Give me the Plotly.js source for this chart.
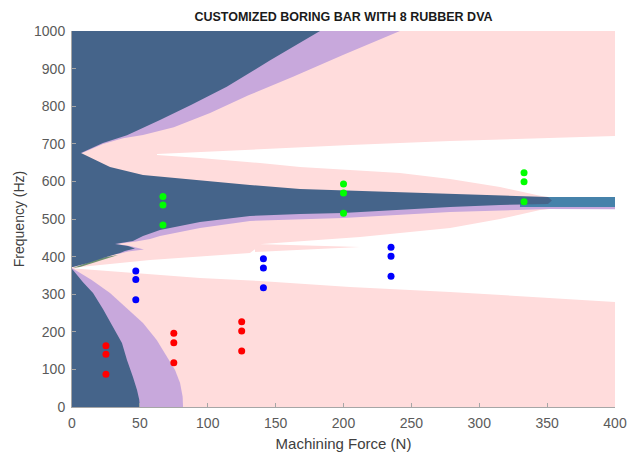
<!DOCTYPE html>
<html>
<head>
<meta charset="utf-8">
<script src="https://cdn.plot.ly/plotly-3.0.1.min.js"></script>
<style>
  html, body { margin: 0; padding: 0; background: #ffffff; }
  #chart { width: 628px; height: 454px; }
</style>
</head>
<body>
<div id="chart"></div>
<script>
// Axis ticks
const forceTicks = [0, 50, 100, 150, 200, 250, 300, 350, 400];
const freqTicks = [0, 100, 200, 300, 400, 500, 600, 700, 800, 900, 1000];

// Measured chatter points (force in N, frequency in Hz)
const forceRed = [25, 25, 25, 75, 75, 75, 125, 125, 125];
const freqRed = [163, 140, 87, 196, 171, 118, 227, 202, 149];
const forceBlue = [47, 47, 47, 141, 141, 141, 235, 235, 235];
const freqBlue = [362, 339, 285, 394, 370, 317, 425, 401, 348];
const forceGreen = [67, 67, 67, 200, 200, 200, 333, 333, 333];
const freqGreen = [560, 537, 484, 593, 569, 515, 623, 599, 546];

// Outer unstable zone (pink) spans the whole domain; stable pockets are cut out of it
const pinkZoneX = [0, 400, 400, 0];
const pinkZoneY = [0, 0, 1000, 1000];

// Stable pocket above the resonance band
const stableUpperX = [62.6, 94.3, 138.5, 204.8, 278.5, 400, 400, 350.6, 344.8, 315.3, 278.5, 241.6, 168, 138.5, 94.3, 62.6];
const stableUpperY = [672.9, 678.2, 686.2, 696.8, 707.4, 720.7, 558.5, 558.5, 562, 585.1, 606.4, 622.3, 638.3, 648.9, 662.2, 670.2];

// Stable pocket below the resonance band
const stableLowerX = [2.2, 57.5, 131.1, 140, 212.2, 278.5, 315.3, 344.8, 359.5, 400, 400, 278.5, 204.8, 138.5, 94.3, 42.7, 2.2];
const stableLowerY = [371, 391, 409.6, 433.5, 452.1, 476.1, 500, 523.9, 529.3, 530.6, 279.3, 305.9, 319.1, 335.1, 343.1, 356.4, 368.4];

// Thin unstable tongue reaching into the lower pocket
const pinkTongueX = [134.8, 212.2, 134.8];
const pinkTongueY = [433.5, 425.5, 412.2];

// Intermediate unstable zone (lavender)
const lavTopX = [0, 241.6, 200, 162.8, 130, 101.7, 75, 52.3, 37.6, 22.8, 6.6, 0];
const lavTopY = [1000, 1000, 937, 878, 829, 782, 744, 723.4, 715, 699.5, 674, 674];
const lavBottomX = [0, 81.8, 81.5, 79.6, 75.9, 70, 62.4, 52.3, 40.3, 28, 14.5, 0.7, 0];
const lavBottomY = [0, 0, 27.4, 63.8, 98.4, 133, 178, 223.4, 262.5, 303.2, 337.8, 369.7, 369.7];
const lavMidX = [0, 350.6, 400, 400, 350.6, 278.5, 199.6, 131.1, 94.3, 64.8, 57.5, 47.1, 32.4, 42.7, 53, 41.3, 35.4, 0];
const lavMidY = [550.5, 558.5, 539.9, 526, 526.6, 518.6, 502.7, 494.7, 476.1, 454.8, 446.8, 440.2, 433.5, 428.2, 418.9, 413.6, 408.2, 396.3];

// Small sliver near the lower lobe tip
const sliverX = [0.7, 20.6, 33.9, 20.6, 5.9];
const sliverY = [369.7, 396.3, 404.3, 388.3, 372.3];

// Narrow resonance strip at high force
const stripX = [330, 400, 400, 330];
const stripY = [532, 532, 558.5, 558.5];

// Core unstable zone (navy)
const navyTopX = [0, 182.7, 146, 114, 88, 64.8, 40.5, 22.8, 6.6, 16.9, 28, 52.3, 89.1, 131.1, 168, 241.6, 278.5, 350.6, 353.5, 350.6, 315.3, 278.5, 199.6, 168, 131.1, 94.3, 64.8, 52.3, 44.9, 31.7, 41.3, 46.4, 39, 35.4, 22.8, 11.8, 0.7, 0];
const navyTopY = [1000, 1000, 922, 852, 804, 763, 723, 702, 675.5, 656.9, 638.3, 617, 603.7, 590.4, 579.8, 571.8, 566.5, 558.5, 549, 540, 537.2, 532, 516, 513.3, 508, 492, 470.7, 454.8, 441.5, 433.5, 428.2, 421.5, 414.9, 409.6, 396.3, 383, 372.3, 372.3];
const navyBottomX = [0, 50, 49.5, 47.9, 44.9, 40.5, 36.8, 30.2, 22.8, 15.5, 8.1, 0.7, 0];
const navyBottomY = [0, 0, 20, 45.2, 79.8, 125, 170, 212.8, 260.6, 303.2, 332, 364.4, 367];

const PINK = '#ffdcdc';
const WHITE = '#ffffff';
const LAV = '#c8a8dc';
const NAVY = '#45648a';
const STEEL = '#4682aa';
const SLIVER = '#6f9070';

function region(x, y, color) {
  return {
    type: 'scatter', mode: 'lines', x: x, y: y,
    fill: 'toself', fillcolor: color,
    line: { width: 0, color: color, shape: 'linear' },
    hoverinfo: 'skip', showlegend: false
  };
}

function dots(x, y, color) {
  return {
    type: 'scatter', mode: 'markers', x: x, y: y,
    marker: { color: color, size: 7, line: { width: 0 } },
    hoverinfo: 'x+y', showlegend: false
  };
}

const traces = [
  region(pinkZoneX, pinkZoneY, PINK),
  region(stableUpperX, stableUpperY, WHITE),
  region(stableLowerX, stableLowerY, WHITE),
  region(pinkTongueX, pinkTongueY, PINK),
  region(lavTopX, lavTopY, LAV),
  region(lavBottomX, lavBottomY, LAV),
  region(lavMidX, lavMidY, LAV),
  region(sliverX, sliverY, SLIVER),
  region(stripX, stripY, STEEL),
  region(navyTopX, navyTopY, NAVY),
  region(navyBottomX, navyBottomY, NAVY),
  dots(forceRed, freqRed, '#ff0000'),
  dots(forceBlue, freqBlue, '#0000ff'),
  dots(forceGreen, freqGreen, '#00ff00')
];

const FONT = 'Liberation Sans, Arial, sans-serif';

const axisCommon = {
  showgrid: false, zeroline: false,
  showline: true, linecolor: '#a6a6a6', linewidth: 1,
  ticks: 'inside', ticklen: 4, tickcolor: '#a6a6a6',
  tickfont: { family: FONT, size: 14, color: '#5a5a5a' }
};

const layout = {
  width: 628, height: 454,
  margin: { l: 72, r: 13, t: 31, b: 47 },
  paper_bgcolor: '#ffffff', plot_bgcolor: '#ffffff',
  showlegend: false,
  title: {
    text: '<b>CUSTOMIZED BORING BAR WITH 8 RUBBER DVA</b>',
    font: { family: FONT, size: 12.5, color: '#1a1a1a' },
    x: 0.5, xref: 'paper', xanchor: 'center',
    y: 1 - 17 / 454, yref: 'container', yanchor: 'middle'
  },
  xaxis: Object.assign({}, axisCommon, {
    range: [0, 400], tickvals: forceTicks, ticklabelstandoff: 3,
    title: { text: 'Machining Force (N)', standoff: 8,
      font: { family: FONT, size: 15, color: '#404040' } }
  }),
  yaxis: Object.assign({}, axisCommon, {
    range: [0, 1000], tickvals: freqTicks, ticklabelstandoff: 3,
    title: { text: 'Frequency (Hz)', standoff: 6,
      font: { family: FONT, size: 14, color: '#404040' } }
  })
};

Plotly.newPlot('chart', traces, layout, { displayModeBar: false, staticPlot: true });
</script>
</body>
</html>
